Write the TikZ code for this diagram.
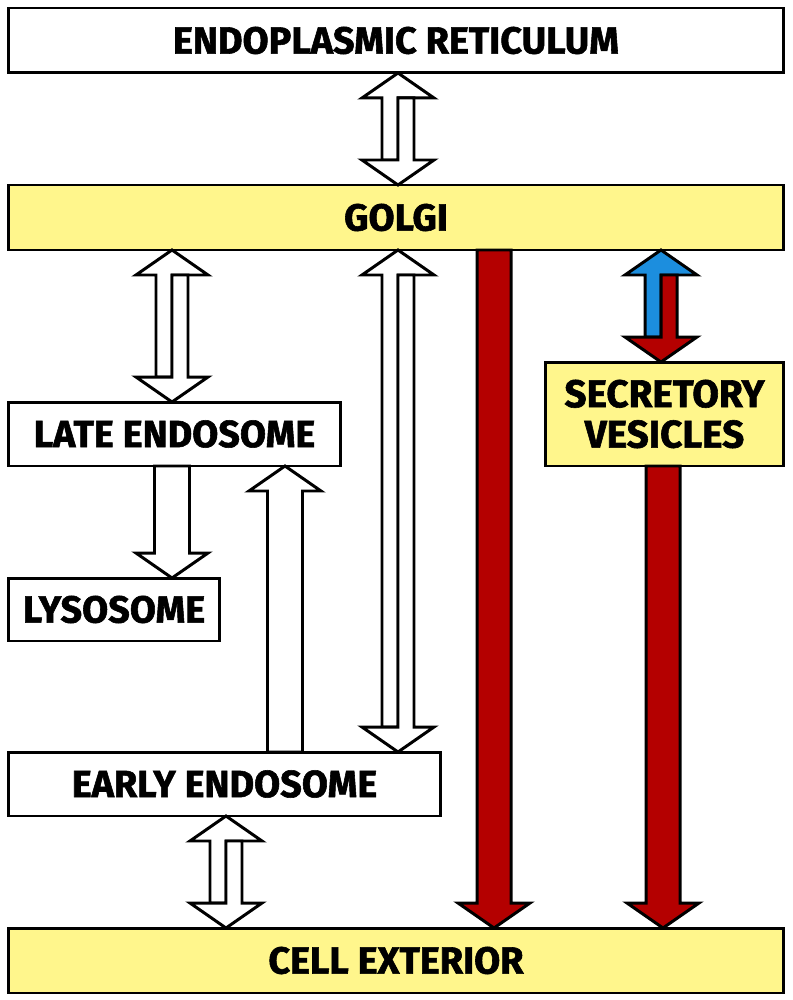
\documentclass[tikz,border=0pt]{standalone}
\usepackage{fontspec}
\setmainfont{Fira Sans}[BoldFeatures={FakeBold=1.5}]
\usepackage{tikz}
\usetikzlibrary{calc}
\definecolor{paleyellow}{RGB}{255,246,140}
\definecolor{vesred}{RGB}{180,0,0}
\definecolor{vesblue}{RGB}{28,142,222}
\tikzset{
  box/.style={draw,line width=1.7pt,inner sep=0pt,outer sep=0pt,align=center,
    font=\fontsize{21.5}{23}\selectfont\bfseries},
  blockarrow/.style={draw=black,line width=1.7pt,line join=miter}
}
% two-way arrow: #1 top, #2 bottom, #3 up fill, #4 down fill
\newcommand\arrowpair[4]{%
  \filldraw[blockarrow,fill=#3] ($(#2)+(-16,-25)$) -- ($(#1)+(-16,25)$) -- ($(#1)+(-36,25)$)
    -- (#1) -- ($(#1)+(36,25)$) -- ($(#1)+(0,25)$) -- ($(#2)+(0,-25)$) -- cycle;
  \filldraw[blockarrow,fill=#4] ($(#1)+(0,25)$) -- ($(#2)+(0,-25)$) -- ($(#2)+(-36,-25)$)
    -- (#2) -- ($(#2)+(36,-25)$) -- ($(#2)+(16,-25)$) -- ($(#1)+(16,25)$) -- cycle;}
% one-way arrows: #1 tip, #2 tail, #3 half shaft, #4 fill
\newcommand\arrowup[4]{%
  \filldraw[blockarrow,fill=#4] ($(#2)+(-#3,0)$) -- ($(#1)+(-#3,25)$) -- ($(#1)+(-36,25)$)
    -- (#1) -- ($(#1)+(36,25)$) -- ($(#1)+(#3,25)$) -- ($(#2)+(#3,0)$) -- cycle;}
\newcommand\arrowdown[4]{%
  \filldraw[blockarrow,fill=#4] ($(#2)+(-#3,0)$) -- ($(#1)+(-#3,-25)$) -- ($(#1)+(-36,-25)$)
    -- (#1) -- ($(#1)+(36,-25)$) -- ($(#1)+(#3,-25)$) -- ($(#2)+(#3,0)$) -- cycle;}

\begin{document}
\begin{tikzpicture}[x=0.02cm,y=-0.02cm]
\useasboundingbox (0,0) rectangle (792,1000);

\node[box,fill=white,minimum width=15.52cm,minimum height=1.3cm] (er) at (396,40.5) {ENDOPLASMIC RETICULUM};
\node[box,fill=paleyellow,minimum width=15.52cm,minimum height=1.3cm] (golgi) at (396,217.5) {GOLGI};
\node[box,fill=white,minimum width=6.66cm,minimum height=1.28cm] (late) at (174.5,434) {LATE ENDOSOME};
\node[box,fill=paleyellow,minimum width=4.78cm,minimum height=2.08cm,font=\fontsize{22}{23}\selectfont\bfseries] (secretory) at (664.5,414) {SECRETORY\\VESICLES};
\node[box,fill=white,minimum width=4.24cm,minimum height=1.26cm] (lyso) at (114,609.5) {LYSOSOME};
\node[box,fill=white,minimum width=8.66cm,minimum height=1.28cm] (early) at (224.5,784) {EARLY ENDOSOME};
\node[box,fill=paleyellow,minimum width=15.52cm,minimum height=1.3cm] (exterior) at (396,960.5) {CELL EXTERIOR};

\coordinate (er-golgi-a) at (398,0 |- er.south);
\coordinate (er-golgi-b) at (398,0 |- golgi.north);
\coordinate (golgi-late-a) at (172,0 |- golgi.south);
\coordinate (golgi-late-b) at (172,0 |- late.north);
\coordinate (golgi-early-a) at (398,0 |- golgi.south);
\coordinate (golgi-early-b) at (398,0 |- early.north);
\coordinate (early-ext-a) at (226,0 |- early.south);
\coordinate (early-ext-b) at (226,0 |- exterior.north);
\coordinate (golgi-sec-a) at (661,0 |- golgi.south);
\coordinate (golgi-sec-b) at (661,0 |- secretory.north);
\coordinate (early-late-a) at (285,0 |- late.south);
\coordinate (early-late-b) at (285,0 |- early.north);
\coordinate (late-lyso-a) at (172,0 |- late.south);
\coordinate (late-lyso-b) at (172,0 |- lyso.north);
\coordinate (golgi-ext-a) at (494,0 |- golgi.south);
\coordinate (golgi-ext-b) at (494,0 |- exterior.north);
\coordinate (sec-ext-a) at (663,0 |- secretory.south);
\coordinate (sec-ext-b) at (663,0 |- exterior.north);

\arrowpair{er-golgi-a}{er-golgi-b}{white}{white}
\arrowpair{golgi-late-a}{golgi-late-b}{white}{white}
\arrowpair{golgi-early-a}{golgi-early-b}{white}{white}
\arrowpair{early-ext-a}{early-ext-b}{white}{white}
\arrowpair{golgi-sec-a}{golgi-sec-b}{vesblue}{vesred}
\arrowup{early-late-a}{early-late-b}{17.5}{white}
\arrowdown{late-lyso-b}{late-lyso-a}{17.5}{white}
\arrowdown{golgi-ext-b}{golgi-ext-a}{17}{vesred}
\arrowdown{sec-ext-b}{sec-ext-a}{17}{vesred}
\end{tikzpicture}
\end{document}
